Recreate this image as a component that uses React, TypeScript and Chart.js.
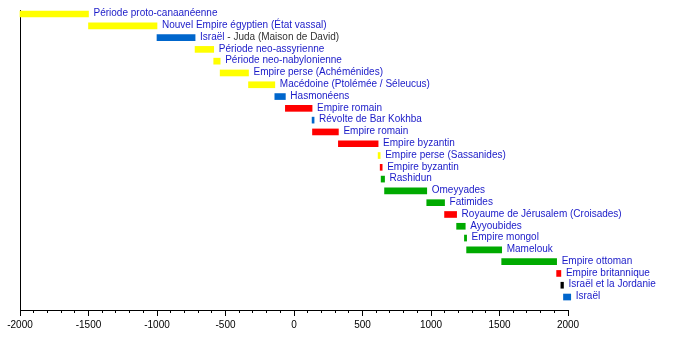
import React, { useEffect, useRef } from "react";
import { Chart, registerables } from "chart.js";

Chart.register(...registerables);

const labels = [
  "Période proto-canaanéenne",
  "Nouvel Empire égyptien (État vassal)",
  "Israël",
  "Période neo-assyrienne",
  "Période neo-nabylonienne",
  "Empire perse (Achéménides)",
  "Macédoine (Ptolémée / Séleucus)",
  "Hasmonéens",
  "Empire romain",
  "Révolte de Bar Kokhba",
  "Empire romain",
  "Empire byzantin",
  "Empire perse (Sassanides)",
  "Empire byzantin",
  "Rashidun",
  "Omeyyades",
  "Fatimides",
  "Royaume de Jérusalem (Croisades)",
  "Ayyoubides",
  "Empire mongol",
  "Mamelouk",
  "Empire ottoman",
  "Empire britannique",
  "Israël et la Jordanie",
  "Israël",
];

const labelTails = [
  "", "", " - Juda (Maison de David)", "", "", "", "", "", "", "", "", "", "",
  "", "", "", "", "", "", "", "", "", "", "", "",
];

const starts = [
  -2000, -1500, -1000, -722, -586, -539, -332, -140, -63, 132, 135, 324, 614,
  629, 636, 661, 969, 1099, 1187, 1244, 1260, 1516, 1917, 1948, 1967,
];

const ends = [
  -1500, -1000, -722, -586, -539, -332, -140, -63, 132, 135, 324, 614, 629,
  636, 661, 969, 1099, 1187, 1250, 1260, 1516, 1917, 1948, 1967, 2020,
];

const kinds = [
  "yellow", "yellow", "blue", "yellow", "yellow", "yellow", "yellow", "blue",
  "red", "blue", "red", "red", "yellow", "red", "green", "green", "green",
  "red", "green", "green", "green", "green", "red", "black", "blue",
];

const xTickMin = -2000;
const xTickMax = 2000;
const xMinorStep = 100;
const xMajorStep = 500;

const palette: Record<string, string> = {
  yellow: "#ffff00",
  blue: "#0066cc",
  red: "#ff0000",
  green: "#00aa00",
  black: "#000000",
};

const FONT = '"Liberation Sans", Arial, sans-serif';

const labelPlugin = {
  id: "barLabels",
  afterDatasetsDraw(chart: any) {
    const ctx = chart.ctx;
    const meta = chart.getDatasetMeta(0);
    ctx.save();
    ctx.font = "10px " + FONT;
    ctx.textBaseline = "middle";
    ctx.textAlign = "left";
    meta.data.forEach((el: any, i: number) => {
      const x = Math.max(el.x, el.base) + 5;
      const y = el.y - 0.5;
      ctx.fillStyle = "#1a1ac8";
      ctx.fillText(labels[i], x, y);
      if (labelTails[i]) {
        const w = ctx.measureText(labels[i]).width;
        ctx.fillStyle = "#333333";
        ctx.fillText(labelTails[i], x + w, y);
      }
    });
    ctx.restore();
  },
};

export default function App() {
  const ref = useRef<HTMLCanvasElement | null>(null);

  useEffect(() => {
    if (!ref.current) return;
    const chart = new Chart(ref.current, {
      type: "bar",
      data: {
        datasets: [
          {
            data: labels.map((_, i) => ({ x: [starts[i], ends[i]], y: i })) as any,
            backgroundColor: kinds.map((k) => palette[k]),
            borderWidth: 0,
            barThickness: 6,
            minBarLength: 2,
            clip: false as any,
            xAxisID: "x",
            yAxisID: "y",
          },
        ],
      },
      options: {
        indexAxis: "y",
        responsive: false,
        animation: false,
        layout: { padding: { left: 20, top: 10, right: 132, bottom: 0 } },
        plugins: {
          legend: { display: false },
          tooltip: { enabled: false },
        },
        scales: {
          xMinor: {
            type: "linear",
            position: "bottom",
            weight: 0,
            min: xTickMin,
            max: xTickMax,
            ticks: { stepSize: xMinorStep, autoSkip: false, display: false },
            grid: {
              display: true,
              drawOnChartArea: false,
              drawTicks: true,
              tickLength: 3,
              color: "#000",
              lineWidth: 1,
            },
            border: { display: false },
            afterFit: (s: any) => {
              s.height = 0;
            },
          },
          x: {
            type: "linear",
            position: "bottom",
            weight: 1,
            min: xTickMin,
            max: xTickMax,
            ticks: {
              stepSize: xMajorStep,
              autoSkip: false,
              maxRotation: 0,
              padding: 3,
              color: "#000",
              font: { family: FONT, size: 10 },
              callback: (v: any) => String(v),
            },
            grid: {
              display: true,
              drawOnChartArea: false,
              drawTicks: true,
              tickLength: 6,
              color: "#000",
              lineWidth: 1,
            },
            border: { display: true, color: "#000", width: 1 },
            afterFit: (s: any) => {
              s.height = 30;
            },
          },
          y: {
            type: "linear",
            reverse: true,
            offset: false,
            min: -0.34,
            max: 25.1,
            ticks: { display: false },
            grid: { display: false },
            border: { display: true, color: "#000", width: 1 },
            afterFit: (s: any) => {
              s.width = 0;
            },
          },
        },
      },
      plugins: [labelPlugin],
    });
    return () => chart.destroy();
  }, []);

  return (
    <div style={{ position: "fixed", left: 0, top: 0, width: 700, height: 340, background: "#fff" }}>
      <canvas ref={ref} width={700} height={340} />
    </div>
  );
}
